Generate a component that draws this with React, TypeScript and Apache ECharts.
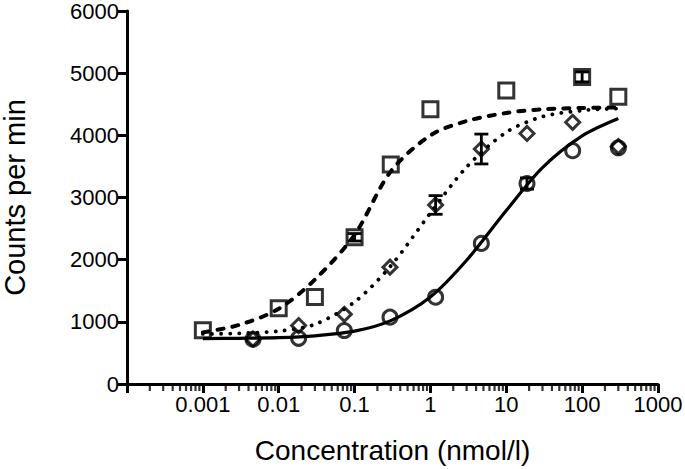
import React, { useEffect, useRef } from "react";
import * as echarts from "echarts";

// Measured data (x in nmol/l, y in counts per min)
const squareX = [0.001, 0.01, 0.03, 0.1, 0.3, 1, 10, 100, 300];
const squareY = [866, 1220, 1400, 2360, 3530, 4420, 4720, 4940, 4620];
const squareErr = [0, 0, 0, 60, 0, 0, 0, 80, 0];

const dilutionX = [0.00458, 0.0183, 0.0732, 0.293, 1.17, 4.69, 18.75, 75, 300];
const circleY = [720, 735, 860, 1075, 1396, 2262, 3225, 3754, 3800];
const circleErr = [0, 0, 0, 0, 0, 0, 90, 0, 0];
const diamondY = [720, 940, 1120, 1880, 2880, 3780, 4030, 4210, 3820];
const diamondErr = [0, 0, 0, 0, 150, 240, 0, 0, 0];

// Fitted curves
const curveX = [0.001, 0.003, 0.01, 0.03, 0.1, 0.3, 1, 3, 10, 30, 100, 300];
const dashedFitY = [830, 950, 1210, 1680, 2400, 3420, 4000, 4230, 4360, 4420, 4440, 4450];
const dottedFitY = [805, 815, 850, 960, 1320, 1900, 2750, 3490, 4050, 4300, 4400, 4430];
const solidFitY = [730, 735, 745, 775, 850, 1020, 1400, 1990, 2790, 3480, 3990, 4270];

const yTicks = [0, 1000, 2000, 3000, 4000, 5000, 6000];
const xDecadeLabels = ["0.001", "0.01", "0.1", "1", "10", "100", "1000"];

const FONT = "Liberation Sans, Arial, Helvetica, sans-serif";

// Positions of the 2..9 minor ticks of each decade (axis decoration)
function minorTickValues(): number[][] {
  const out: number[][] = [];
  for (let e = -4; e < 3; e++) {
    for (let m = 2; m <= 9; m++) out.push([m * Math.pow(10, e), 0]);
  }
  return out;
}

function zip(xs: number[], ys: number[]) {
  return xs.map((x, i) => [x, ys[i]]);
}
function zip3(xs: number[], ys: number[], es: number[]) {
  return xs.map((x, i) => [x, ys[i], es[i]]);
}

function errorSeries(data: number[][]) {
  return {
    type: "custom",
    silent: true,
    z: 4,
    clip: false,
    data,
    renderItem: (params: any, api: any) => {
      const x = api.value(0);
      const y = api.value(1);
      const e = api.value(2);
      if (!e) return null;
      const top = api.coord([x, y + e]);
      const bot = api.coord([x, y - e]);
      const hw = 7;
      const st = { stroke: "#000", lineWidth: 2.8 };
      return {
        type: "group",
        children: [
          { type: "line", shape: { x1: top[0], y1: top[1], x2: bot[0], y2: bot[1] }, style: st },
          { type: "line", shape: { x1: top[0] - hw, y1: top[1], x2: top[0] + hw, y2: top[1] }, style: st },
          { type: "line", shape: { x1: bot[0] - hw, y1: bot[1], x2: bot[0] + hw, y2: bot[1] }, style: st },
        ],
      };
    },
  };
}

export default function App() {
  const ref = useRef<HTMLDivElement>(null);
  useEffect(() => {
    if (!ref.current) return;
    const chart = echarts.init(ref.current, null, { renderer: "svg" });
    const open = { color: "rgba(0,0,0,0)", borderColor: "#000", borderWidth: 3 };
    chart.setOption({
      animation: false,
      backgroundColor: "#fff",
      grid: {
        left: 127,
        right: 27,
        top: 11,
        bottom: 85,
        containLabel: false,
        outerBoundsMode: "none",
      },
      xAxis: {
        type: "log",
        logBase: 10,
        min: 0.0001,
        max: 1000,
        interval: 1,
        name: "Concentration (nmol/l)",
        nameLocation: "middle",
        nameGap: 52,
        nameTextStyle: { color: "#000", fontSize: 28, fontFamily: FONT },
        axisLine: { show: true, lineStyle: { color: "#000", width: 3 } },
        axisTick: { show: true, inside: false, length: 9, lineStyle: { color: "#000", width: 3 } },
        splitLine: { show: false },
        minorTick: { show: false },
        axisLabel: {
          color: "#000",
          fontSize: 22,
          fontFamily: FONT,
          margin: 9,
          showMinLabel: true,
          showMaxLabel: true,
          formatter: (v: number) => {
            const e = Math.round(Math.log10(v));
            const idx = e + 3;
            return idx >= 0 && idx < xDecadeLabels.length ? xDecadeLabels[idx] : "";
          },
        },
      },
      yAxis: {
        type: "value",
        min: yTicks[0],
        max: yTicks[yTicks.length - 1],
        interval: 1000,
        name: "Counts per min",
        nameLocation: "middle",
        nameGap: 98,
        nameTextStyle: { color: "#000", fontSize: 29, fontFamily: FONT },
        axisLine: { show: true, lineStyle: { color: "#000", width: 3 } },
        axisTick: { show: true, inside: false, length: 9, lineStyle: { color: "#000", width: 3 } },
        splitLine: { show: false },
        axisLabel: {
          color: "#000",
          fontSize: 22,
          fontFamily: FONT,
          margin: 8,
          formatter: (v: number) => String(v),
        },
      },
      series: [
        {
          type: "scatter",
          silent: true,
          clip: false,
          z: 10,
          data: minorTickValues(),
          symbol: "rect",
          symbolSize: [2.2, 6],
          symbolOffset: [0, 4],
          itemStyle: { color: "#000" },
        },
        {
          type: "line",
          data: zip(curveX, solidFitY),
          smooth: 0.3,
          symbol: "none",
          z: 3,
          lineStyle: { color: "#000", width: 3.2 },
        },
        {
          type: "line",
          data: zip(curveX, dashedFitY),
          smooth: 0.3,
          symbol: "none",
          z: 3,
          lineStyle: { color: "#000", width: 4, type: [6, 9], cap: "round" },
        },
        {
          type: "line",
          data: zip(curveX, dottedFitY),
          smooth: 0.3,
          symbol: "none",
          z: 3,
          lineStyle: { color: "#000", width: 3.8, type: [0.1, 9], cap: "round" },
        },
        errorSeries(zip3(squareX, squareY, squareErr)),
        errorSeries(zip3(dilutionX, circleY, circleErr)),
        errorSeries(zip3(dilutionX, diamondY, diamondErr)),
        {
          type: "scatter",
          data: zip(squareX, squareY),
          symbol: "rect",
          symbolSize: 15,
          z: 5,
          itemStyle: open,
        },
        {
          type: "scatter",
          data: zip(dilutionX, circleY),
          symbol: "circle",
          symbolSize: 14,
          z: 5,
          itemStyle: open,
        },
        {
          type: "scatter",
          data: zip(dilutionX, diamondY),
          symbol: "diamond",
          symbolSize: 14,
          z: 5,
          itemStyle: open,
        },
      ],
    });
    return () => chart.dispose();
  }, []);
  return (
    <div
      ref={ref}
      style={{ position: "absolute", left: 0, top: 0, width: 685, height: 469, background: "#fff" }}
    />
  );
}
